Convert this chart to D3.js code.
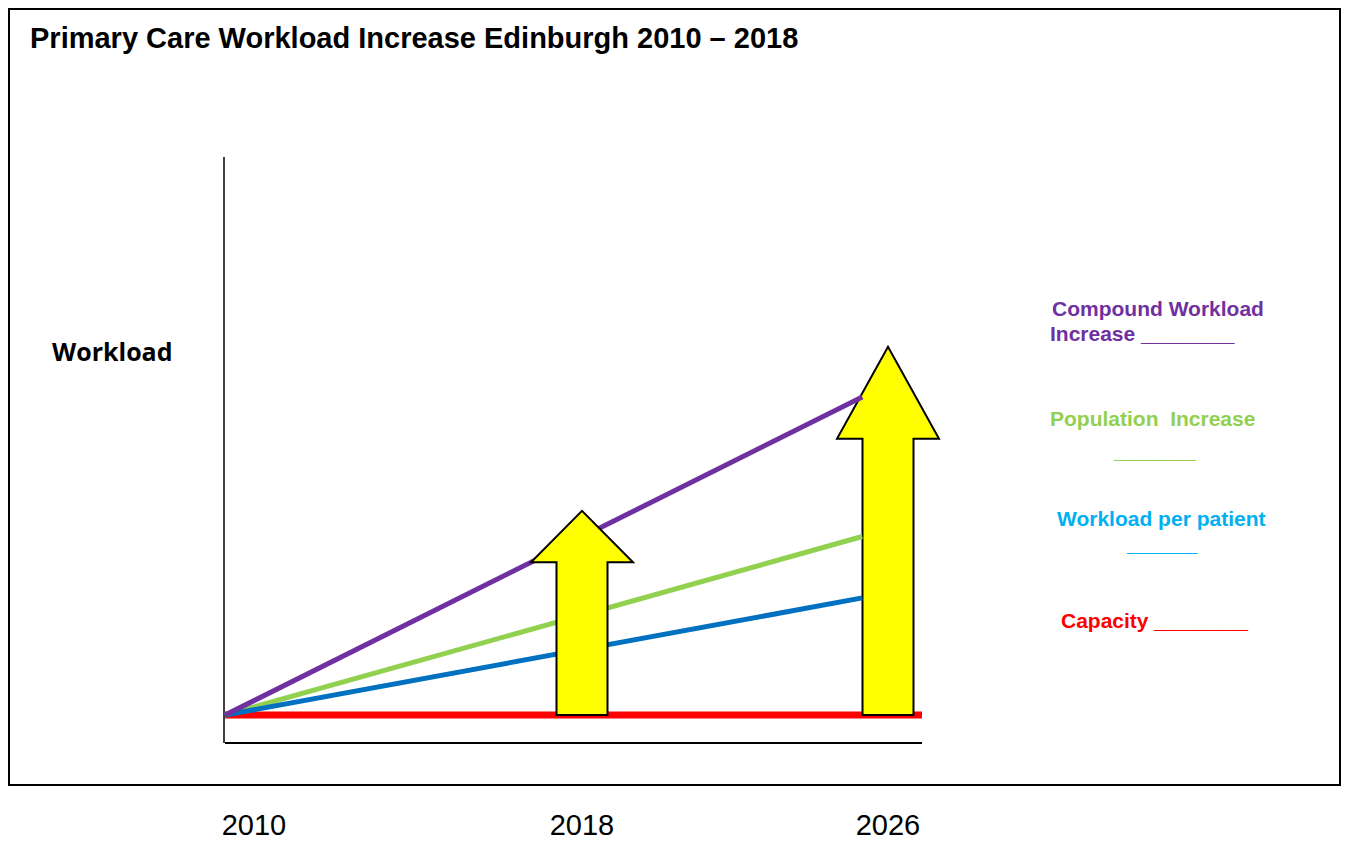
<!DOCTYPE html>
<html>
<head>
<meta charset="utf-8">
<script src="https://cdn.jsdelivr.net/npm/d3@7"></script>
<style>
  body { margin: 0; background: #fff; }
  svg { display: block; }
</style>
</head>
<body>
<svg id="chart"></svg>
<script>
// values (workload index, 2010 = 0)
var lineYears = [2010, 2026];
var compound = [0, 57];
var population = [0, 32];
var perPatient = [0, 21];
var capacityYears = [2010, 2027.5];
var capacity = [0, 0];

var arrowYears = [2018, 2026];
var arrowTip = [36.6, 66];
var arrowNeck = [27.4, 49.5];

var tickYears = [2010, 2018, 2026];
var tickLabels = ["2010", "2018", "2026"];

var legendLines = [
  ["Compound Workload", "Increase ________"],
  ["Population  Increase", "_______"],
  ["Workload per patient", "______"],
  ["Capacity ________"]
];

var width = 1346, height = 843;
var svg = d3.select("#chart").attr("width", width).attr("height", height);

// outer frame
svg.append("rect")
  .attr("x", 9).attr("y", 9)
  .attr("width", 1331).attr("height", 776)
  .style("fill", "none").style("stroke", "#000").style("stroke-width", 2);

svg.append("text")
  .attr("x", 30).attr("y", 48)
  .style("font-family", "Liberation Sans, Arial, sans-serif")
  .style("font-weight", "bold")
  .style("font-size", "29px")
  .text("Primary Care Workload Increase Edinburgh 2010 \u2013 2018");

var x = d3.scaleLinear().domain([2010, 2027.5]).range([225, 922]);
var xTick = d3.scaleLinear().domain([2010, 2018, 2026]).range([254, 582, 888]);
var y = d3.scaleLinear().domain([-5, 100]).range([743, 157]);

// axes (plain lines, no ticks)
svg.append("line")
  .attr("x1", x(2010) - 1).attr("x2", x(2010) - 1)
  .attr("y1", y(100)).attr("y2", y(-5))
  .style("stroke", "#000").style("stroke-width", 1.5);
svg.append("line")
  .attr("x1", x(2010)).attr("x2", x(2027.5))
  .attr("y1", y(-5)).attr("y2", y(-5))
  .style("stroke", "#000").style("stroke-width", 2);

svg.append("text")
  .attr("x", 52).attr("y", 361)
  .style("font-family", "Open Sans, sans-serif")
  .style("font-weight", "bold")
  .style("font-size", "25px")
  .text("Workload");

svg.selectAll(".tick-label")
  .data(tickYears)
  .enter().append("text")
  .attr("class", "tick-label")
  .attr("x", function(d) { return xTick(d); })
  .attr("y", 835)
  .attr("text-anchor", "middle")
  .style("font-family", "Liberation Sans, Arial, sans-serif")
  .style("font-size", "29px")
  .text(function(d, i) { return tickLabels[i]; });

var line = d3.line()
  .x(function(d) { return x(d[0]); })
  .y(function(d) { return y(d[1]); });

function drawSeries(years, vals, color, w) {
  svg.append("path")
    .datum(years.map(function(yr, i) { return [yr, vals[i]]; }))
    .attr("d", line)
    .style("fill", "none")
    .style("stroke", color)
    .style("stroke-width", w);
}

function arrowPath(i) {
  var cx = xTick(arrowYears[i]);
  var shaft = 25.5, head = 51;
  var base = y(0), neck = y(arrowNeck[i]), tip = y(arrowTip[i]);
  return "M" + (cx - shaft) + "," + base +
    "L" + (cx - shaft) + "," + neck +
    "L" + (cx - head) + "," + neck +
    "L" + cx + "," + tip +
    "L" + (cx + head) + "," + neck +
    "L" + (cx + shaft) + "," + neck +
    "L" + (cx + shaft) + "," + base + "Z";
}

function drawArrow(i) {
  svg.append("path")
    .attr("d", arrowPath(i))
    .style("fill", "#ffff00")
    .style("stroke", "#000")
    .style("stroke-width", 2)
    .style("stroke-linejoin", "miter");
}

drawSeries(capacityYears, capacity, "#ff0000", 7);
drawArrow(1);
drawSeries(lineYears, population, "#92d050", 5);
drawSeries(lineYears, perPatient, "#0070c0", 5);
drawSeries(lineYears, compound, "#7030a0", 5);
drawArrow(0);

// legend
var legendColors = ["#7030a0", "#92d050", "#00b0f0", "#ff0000"];
var legendPos = [
  [[1052, 316], [1050, 341]],
  [[1050, 426], [1114, 458]],
  [[1057, 526], [1127, 551]],
  [[1061, 628]]
];
legendLines.forEach(function(rows, i) {
  rows.forEach(function(t, j) {
    svg.append("text")
      .attr("x", legendPos[i][j][0]).attr("y", legendPos[i][j][1])
      .style("font-family", "Liberation Sans, Arial, sans-serif")
      .style("font-weight", "bold")
      .style("font-size", "21px")
      .style("fill", legendColors[i])
      .style("white-space", "pre")
      .attr("xml:space", "preserve")
      .text(t);
  });
});
</script>
</body>
</html>
